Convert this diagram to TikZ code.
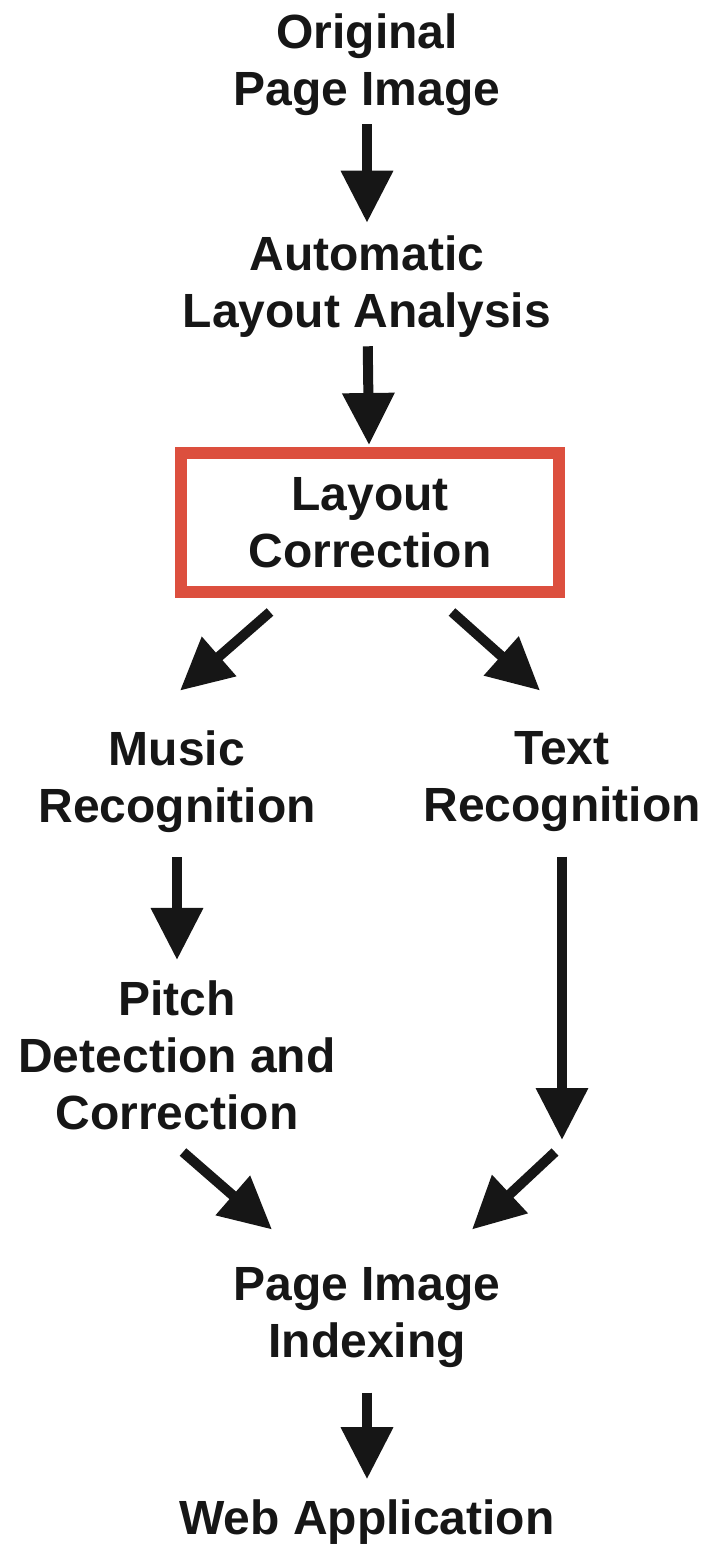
\documentclass[tikz,border=0pt]{standalone}
\usepackage{fontspec}
\setmainfont{Liberation Sans}
\usetikzlibrary{arrows.meta,positioning}
\definecolor{FlowInk}{HTML}{161616}
\definecolor{FlowRed}{HTML}{DC4F3E}
\tikzset{
  every node/.style={font=\fontsize{24}{28.5}\selectfont\bfseries, text=FlowInk, align=center, inner sep=0pt},
  stage/.style={},
  focus/.style={draw=FlowRed, line width=6pt, minimum width=189pt, minimum height=69.5pt},
  flow/.style={-{Triangle[length=26pt,width=25pt]}, draw=FlowInk, line width=5pt},
}

\begin{document}
\begin{tikzpicture}[x=0.5pt,y=-0.5pt]
  \useasboundingbox (0,0) rectangle (709,1551);

  % Pipeline stages
  \node[stage] (orig)  at (367,65)   {Original\\Page Image};
  \node[stage] (auto)  at (367,287)  {Automatic\\Layout Analysis};
  \node[focus] (fix)   at (370,522.5) {Layout\\Correction};
  \node[stage] (music) at (177,782)  {Music\\Recognition};
  \node[stage] (text)  at (562,782)  {Text\\Recognition};
  \node[stage] (pitch) at (177,1055) {Pitch\\Detection and\\Correction};
  \node[stage] (index) at (367,1318) {Page Image\\Indexing};
  \node[stage] (web)   at (367,1522) {Web Application};
  \coordinate (tjoin) at (562,1140);

  % Connectors
  \draw[flow, shorten <=4pt, shorten >=6.5pt] (orig) -- (auto);
  \draw[flow, shorten <=4pt, shorten >=1pt] (auto) -- (fix);
  \draw[flow] ([shift={(-100,14)}]fix.south) -- ([shift={(3,-40)}]music.north);
  \draw[flow] ([shift={(82,14)}]fix.south) -- ([shift={(-22,-41)}]text.north);
  \draw[flow, shorten <=12pt, shorten >=10pt] (music) -- (pitch);
  \draw[flow, shorten <=12pt] (text) -- (tjoin);
  \draw[flow] ([shift={(6,22)}]pitch.south) -- ([shift={(-95,-38)}]index.north);
  \draw[flow] ([shift={(-7,12)}]tjoin) -- ([shift={(105,-38)}]index.north);
  \draw[flow, shorten <=12pt, shorten >=10pt] (index) -- (web);
\end{tikzpicture}
\end{document}
